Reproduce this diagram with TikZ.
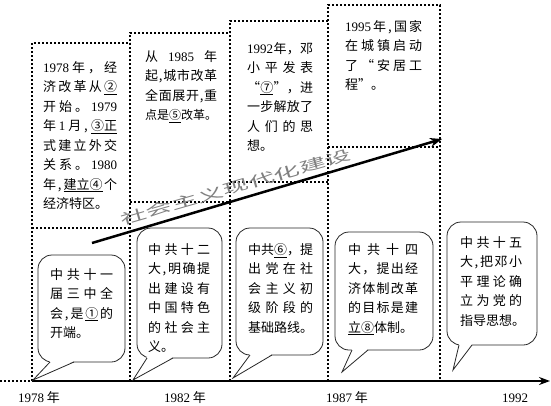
\documentclass[tikz,border=0pt]{standalone}
\usepackage{fontspec}
\setmainfont{Noto Sans CJK SC}
\newfontfamily\yrfont{Liberation Serif}
\usetikzlibrary{arrows.meta}
\newcommand\yr[1]{{\yrfont #1}}
\newcommand\jl[2]{\makebox[#1][s]{\spaceskip=0pt plus 1fil\xspaceskip=0pt plus 1fil\relax #2}}
\newcommand\uln[1]{\underline{#1}}
\newcommand\bubble[8]{%
  \draw[bubline, fill=white, rounded corners=14pt] (#1,#2) rectangle (#3,#4);
  \fill[white] (#5,{#4-1}) -- (#7,#8) -- (#6,{#4-1}) -- cycle;
  \draw[bubline, line join=miter] (#5,#4) -- (#7,#8) -- (#6,#4);}
\begin{document}
\begin{tikzpicture}[x=1pt,y=-1pt,
  dotline/.style={line width=2pt, dash pattern=on 2pt off 2pt},
  bubline/.style={line width=0.8pt, draw=black!85},
  txt/.style={anchor=north west, align=left, inner sep=0pt, font=\fontsize{13}{19.5}\selectfont},
  lab/.style={inner sep=0pt, font=\fontsize{13}{15}\selectfont}]
\useasboundingbox (0,0) rectangle (551,405);
% dotted boxes
\draw[dotline] (32,381) -- (32,43) -- (130,43);
\draw[dotline] (32,228) -- (130,228);
\draw[dotline] (130,381) -- (130,33) -- (230,33);
\draw[dotline] (130,202) -- (230,202);
\draw[dotline] (230,381) -- (230,21) -- (328,21);
\draw[dotline] (230,182) -- (328,182);
\draw[dotline] (328,381) -- (328,5) -- (440,5) -- (440,381);
\draw[dotline] (328,147) -- (440,147);
% axis
\coordinate (o) at (0,381);
\coordinate (t0) at (32,381);
\coordinate (tend) at (550,381);
\draw[dotline] (o) -- (t0);
\draw[line width=2pt, -{Stealth[length=11pt,width=8pt]}] (t0) -- (tend);
\node[lab] (l1) at (39,398) {\yr{1978} 年};
\node[lab] (l2) at (185,398) {\yr{1982} 年};
\node[lab] (l3) at (347,398) {\yr{1987} 年};
\node[lab] (l4) at (515,398) {\yr{1992}};
% diagonal arrow
\coordinate (as) at (92,243);
\coordinate (ae) at (442,139);
\draw[line width=2.5pt, -{Stealth[length=12pt,width=9pt]}] (as) -- (ae);
\node[rotate=16, text=black!50, inner sep=0pt, font=\fontsize{14}{14}\selectfont] (mod) at (236,187) {\scalebox{1.9}[1]{社会主义现代化建设}};
% upper boxes text
\node[txt] (b1) at (43,61) {\jl{74pt}{\yr{1978} 年 ， 经}\\
\jl{74pt}{济 改 革 从 \uln{②}}\\
\jl{74pt}{开 始 。 \yr{1979}}\\
\jl{74pt}{年 \yr{1} 月 , \uln{③正}}\\
\jl{74pt}{式 建 立 外 交}\\
\jl{74pt}{关 系 。 \yr{1980}}\\
\jl{74pt}{年 , \uln{建立④} 个}\\
经济特区。};
\node[txt] (b2) at (145,50) {\jl{72pt}{从 \yr{1985} 年}\\
\jl{72pt}{起 , 城 市 改 革}\\
\jl{72pt}{全 面 展 开 , 重}\\
{\fontsize{12}{12}\selectfont 点是\uln{⑤}改革。}};
\node[txt] (b3) at (247,42) {\jl{66pt}{\yr{1992} 年 ， 邓}\\
\jl{66pt}{小 平 发 表}\\
\jl{66pt}{“ \uln{⑦} ” ， 进}\\
\jl{66pt}{一 步 解 放 了}\\
\jl{66pt}{人 们 的 思}\\
想。};
\node[txt] (b4) at (345,20) {\jl{77pt}{\yr{1995} 年 , 国 家}\\
\jl{77pt}{在 城 镇 启 动}\\
\jl{77pt}{了 “ 安 居 工}\\
程”。};
% bubbles
\bubble{38}{255}{125}{362}{50}{74}{33}{380}
\bubble{137}{228}{222}{358}{147}{173}{133}{380}
\bubble{236}{228}{323}{355}{250}{272}{233}{378}
\bubble{335}{232}{433}{350}{352}{368}{342}{372}
\bubble{447}{222}{537}{345}{459}{472}{453}{370}
\node[txt] (c1) at (50,268) {\jl{63pt}{中 共 十 一}\\
\jl{63pt}{届 三 中 全}\\
\jl{63pt}{会 , 是 \uln{①} 的}\\
开端。};
\node[txt] (c2) at (148,243) {\jl{62pt}{中 共 十 二}\\
\jl{62pt}{大 , 明 确 提}\\
\jl{62pt}{出 建 设 有}\\
\jl{62pt}{中 国 特 色}\\
\jl{62pt}{的 社 会 主}\\
义。};
\node[txt] (c3) at (248,243) {\jl{65pt}{中 共 \uln{⑥} ， 提}\\
\jl{65pt}{出 党 在 社}\\
\jl{65pt}{会 主 义 初}\\
\jl{65pt}{级 阶 段 的}\\
基础路线。};
\node[txt] (c4) at (348,243) {\jl{70pt}{中 共 十 四}\\
\jl{70pt}{大 ， 提 出 经}\\
\jl{70pt}{济 体 制 改 革}\\
\jl{70pt}{的 目 标 是 建}\\
\uln{立⑧}体制。};
\node[txt] (c5) at (460,236) {\jl{62pt}{中 共 十 五}\\
\jl{62pt}{大 , 把 邓 小}\\
\jl{62pt}{平 理 论 确}\\
\jl{62pt}{立 为 党 的}\\
指导思想。};
\end{tikzpicture}
\end{document}
